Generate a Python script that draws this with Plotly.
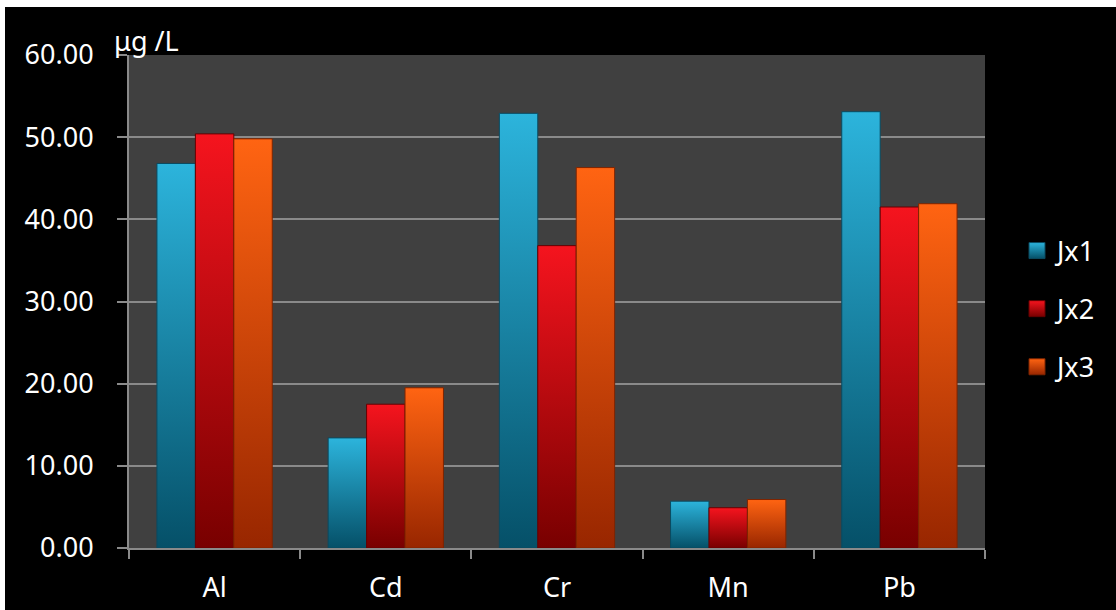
import plotly.graph_objects as go

categories = ["Al", "Cd", "Cr", "Mn", "Pb"]
series_names = ["Jx1", "Jx2", "Jx3"]
jx1 = [46.8, 13.4, 52.9, 5.7, 53.1]
jx2 = [50.4, 17.5, 36.8, 4.9, 41.5]
jx3 = [49.8, 19.5, 46.3, 5.9, 41.9]
y_ticks = [0, 10, 20, 30, 40, 50, 60]
unit_label = "μg /L"

values = [jx1, jx2, jx3]
tops = ["#2cb4dc", "#f5141e", "#ff6412"]
bottoms = ["#055068", "#780000", "#982600"]
edges = ["#0a4a60", "#660000", "#7e2400"]

FONT = "Noto Sans"
FS = 27
GRID = "#8a8a8a"
bar_w = 0.2245

fig = go.Figure()
for k, (name, vals) in enumerate(zip(series_names, values)):
    for i, v in enumerate(vals):
        x0 = i + (k - 1) * bar_w - bar_w / 2
        x1 = x0 + bar_w
        fig.add_trace(go.Scatter(
            x=[x0, x0, x1, x1, x0], y=[0, v, v, 0, 0],
            mode="lines", fill="toself",
            fillgradient=dict(type="vertical",
                              colorscale=[[0, bottoms[k]], [1, tops[k]]]),
            line=dict(color=edges[k], width=1),
            showlegend=False, hoverinfo="skip",
        ))
for k, name in enumerate(series_names):
    fig.add_trace(go.Scatter(
        x=[None], y=[None], mode="markers", name=name,
        legendgroup=name,
        marker=dict(symbol="square", size=18, color=tops[k],
                    gradient=dict(type="vertical", color=bottoms[k]),
                    line=dict(color=edges[k], width=1)),
    ))

W, H = 1116, 610
L, R, T, B = 129, 131, 55, 62
pw, ph = W - L - R, H - T - B

def px_x(p):
    return (p - L) / pw

def px_y(p):
    return (H - B - p) / ph

fig.update_layout(
    width=W, height=H,
    margin=dict(l=L, r=R, t=T, b=B, autoexpand=False),
    paper_bgcolor="black", plot_bgcolor="#404040",
    font=dict(family=FONT, size=FS, color="white"),
    showlegend=True,
    legend=dict(x=px_x(1017), xanchor="left", y=px_y(309), yanchor="middle",
                traceorder="grouped", tracegroupgap=20,
                bgcolor="rgba(0,0,0,0)", font=dict(size=FS, color="white")),
    xaxis=dict(range=[-0.5, 4.5], tickvals=list(range(len(categories))),
               ticktext=categories, ticks="", showgrid=False, zeroline=False,
               showline=True, linecolor=GRID, linewidth=2, automargin=False,
               ticklabelstandoff=15,
               minor=dict(tickmode="array",
                          tickvals=[i - 0.5 for i in range(len(categories) + 1)],
                          ticks="outside", ticklen=9, tickcolor=GRID,
                          tickwidth=2, showgrid=False),
               tickfont=dict(size=FS, color="white")),
    yaxis=dict(range=[0, 60], tickvals=y_ticks, tickformat=".2f",
               ticks="outside", ticklen=10, tickcolor=GRID, tickwidth=2,
               showline=True, linecolor=GRID, linewidth=2, automargin=False,
               showgrid=True, gridcolor=GRID, gridwidth=2, zeroline=False,
               ticklabelstandoff=18,
               tickfont=dict(size=FS, color="white")),
    annotations=[dict(text=unit_label, xref="paper", yref="paper",
                      x=px_x(112), y=px_y(41), xanchor="left", yanchor="middle",
                      showarrow=False, font=dict(size=FS, color="white"))],
    shapes=[
        dict(type="rect", xref="paper", yref="paper", layer="above",
             x0=-0.3, x1=1.3, y0=px_y(7), y1=px_y(-20),
             fillcolor="white", line=dict(width=0)),
        dict(type="rect", xref="paper", yref="paper", layer="above",
             x0=px_x(-20), x1=px_x(5), y0=px_y(630), y1=px_y(-20),
             fillcolor="white", line=dict(width=0)),
    ],
)

fig.write_html("out.html")
